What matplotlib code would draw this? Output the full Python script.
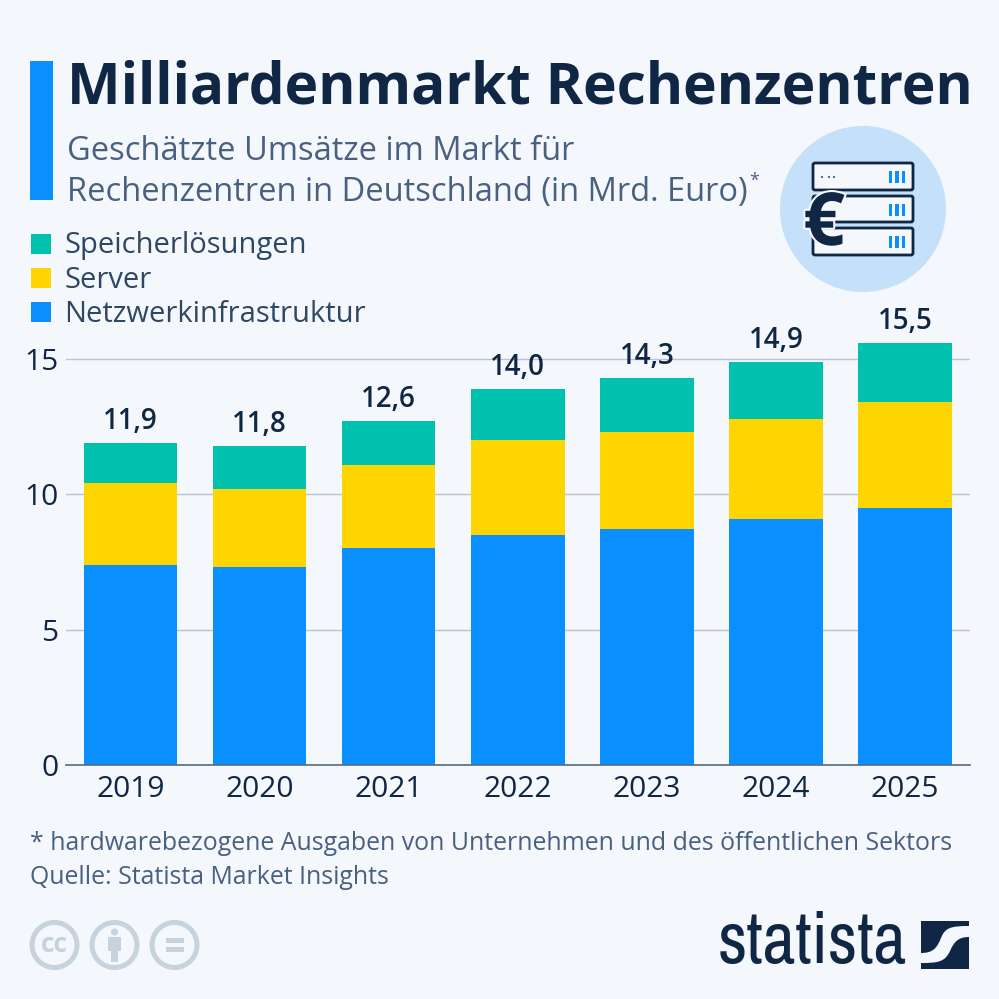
import matplotlib
matplotlib.use("Agg")
import matplotlib.pyplot as plt
import matplotlib.patheffects as pe
from matplotlib import font_manager as fm
import numpy as np
from matplotlib.patches import Rectangle, Circle, FancyBboxPatch, PathPatch
from matplotlib.path import Path

years = ["2019", "2020", "2021", "2022", "2023", "2024", "2025"]
netzwerk = [7.4, 7.3, 8.0, 8.5, 8.7, 9.1, 9.5]
server = [3.0, 2.9, 3.1, 3.5, 3.6, 3.7, 3.9]
speicher = [1.5, 1.6, 1.6, 1.9, 2.0, 2.1, 2.2]
total_labels = ["11,9", "11,8", "12,6", "14,0", "14,3", "14,9", "15,5"]
yticks = [0, 5, 10, 15]
legend_names = ["Speicherlösungen", "Server", "Netzwerkinfrastruktur"]

BG = "#F4F7FB"; NAVY = "#0F2744"; BLUE = "#0A8FFF"; YEL = "#FFD500"; TEAL = "#00C1AE"
SLATE = "#4A6080"; GRID = "#BCC3D0"
plt.rcParams["font.family"] = "Open Sans"

W = H = 999
fig = plt.figure(figsize=(W/100, H/100), dpi=100, facecolor=BG)

ov = fig.add_axes([0, 0, 1, 1], zorder=3)
ov.set_xlim(0, W); ov.set_ylim(H, 0); ov.axis("off")

top_px, bot_px = 340, 765
ax = fig.add_axes([65.8/W, 1-bot_px/H, 904/W, (bot_px-top_px)/H], zorder=2)
ax.patch.set_alpha(0)
ax.set_xlim(-0.5, 6.5)
ax.set_ylim(0, (bot_px-top_px)/27.07)
x = np.arange(len(years))
w = 0.724
n = np.array(netzwerk); s = np.array(server); p = np.array(speicher)
ax.bar(x, n, w, color=BLUE, zorder=2)
ax.bar(x, s, w, bottom=n, color=YEL, zorder=2)
ax.bar(x, p, w, bottom=n+s, color=TEAL, zorder=2)
for xi, t, lab in zip(x, n+s+p, total_labels):
    ax.annotate(lab, (xi, t), xytext=(0, 5), textcoords="offset points", ha="center", va="bottom",
                fontsize=20, fontweight="semibold", color=NAVY, zorder=4)
ax.set_yticks(yticks); ax.set_xticks(x, years)
ax.grid(axis="y", color=GRID, lw=1, zorder=1)
ax.set_axisbelow(True)
for sp in ["top", "right", "left"]:
    ax.spines[sp].set_visible(False)
ax.spines["bottom"].set_color("#5A6A80"); ax.spines["bottom"].set_linewidth(1.2)
ax.tick_params(axis="y", length=0, pad=5.5, labelsize=21.5, labelcolor=NAVY)
ax.tick_params(axis="x", length=0, pad=7.2, labelsize=21.5, labelcolor=NAVY)

# header
ov.add_patch(Rectangle((30, 61), 23, 139, color=BLUE, lw=0))
ov.text(67, 88, "Milliardenmarkt Rechenzentren", fontsize=40.85, fontweight="bold", color=NAVY, va="center", ha="left")
ov.text(67, 152, "Geschätzte Umsätze im Markt für", fontsize=23.5, color=SLATE, va="center")
ov.text(67, 193, "Rechenzentren in Deutschland (in Mrd. Euro)", fontsize=23.5, color=SLATE, va="center")
ov.text(749, 181, "*", fontsize=13, color=SLATE, va="center")

# legend
for yy, c, name in zip([244, 278, 312], [TEAL, YEL, BLUE], legend_names):
    ov.add_patch(Rectangle((31, yy-10), 20, 20, color=c, lw=0))
    ov.text(64, yy+2, name, fontsize=21, color="#2E4763", va="center")

# icon
ov.add_patch(Circle((863, 209), 83, color="#C5E0FA", lw=0))
for yy, h in [(163, 27), (196, 26), (228, 27)]:
    ov.add_patch(FancyBboxPatch((813, yy), 100, h, boxstyle="round,pad=0,rounding_size=2",
                                fc=BG, ec=NAVY, lw=2))
    for dx in [889, 895.3, 901.5]:
        ov.add_patch(Rectangle((dx, yy+8), 3.3, 11.5, color=BLUE, lw=0))
for dx in [822, 829, 834]:
    ov.add_patch(Circle((dx, 177), 1.1, color=SLATE, lw=0))
t = ov.text(824, 226, "€", fontsize=53, fontweight="bold", color=NAVY, ha="center", va="center", zorder=5)
t.set_path_effects([pe.withStroke(linewidth=3, foreground=BG)])

# footer
ov.text(30, 843, "* hardwarebezogene Ausgaben von Unternehmen und des öffentlichen Sektors", fontsize=17.95, color=SLATE, va="center")
ov.text(30, 878, "Quelle: Statista Market Insights", fontsize=17.95, color=SLATE, va="center")

# licence badges
CC = "#C6D3DC"
for cx in [54.5, 114.5, 174.5]:
    ov.add_patch(Circle((cx, 945), 22.5, fc="none", ec=CC, lw=3.6))
ov.text(54.5, 944, "cc", fontsize=19, fontweight="bold", color=CC, ha="center", va="center")
ov.add_patch(Circle((114.5, 932), 3.5, color=CC, lw=0))
ov.add_patch(Rectangle((108, 937), 13, 14, color=CC, lw=0))
ov.add_patch(Rectangle((111, 951), 7, 11, color=CC, lw=0))
ov.add_patch(Rectangle((165.5, 938), 18, 5, color=CC, lw=0))
ov.add_patch(Rectangle((165.5, 947), 18, 5, color=CC, lw=0))

# logo
names = sorted({f.name for f in fm.fontManager.ttflist
                if "narrow" in f.name.lower() or "condensed" in f.name.lower()})
logo_font = names[0] if names else "Liberation Sans"
ov.text(812.5, 944, "statista", fontsize=37 if not names else 51.5, fontweight="bold", family=logo_font,
        color=NAVY, ha="center", va="center")
ov.add_patch(Rectangle((921, 921), 48, 48, color=NAVY, lw=0))
wave = Path([(921, 953), (933, 953), (937, 948), (941, 938), (945, 928), (950, 926), (969, 926),
             (969, 937), (958, 937), (954, 942), (950, 951), (945, 962), (938, 963), (921, 963), (921, 953)],
            [1, 4, 4, 4, 4, 4, 4, 2, 4, 4, 4, 4, 4, 4, 79])
ov.add_patch(PathPatch(wave, fc=BG, ec="none", lw=0))

fig.savefig("out.png", dpi=100, facecolor=BG)
